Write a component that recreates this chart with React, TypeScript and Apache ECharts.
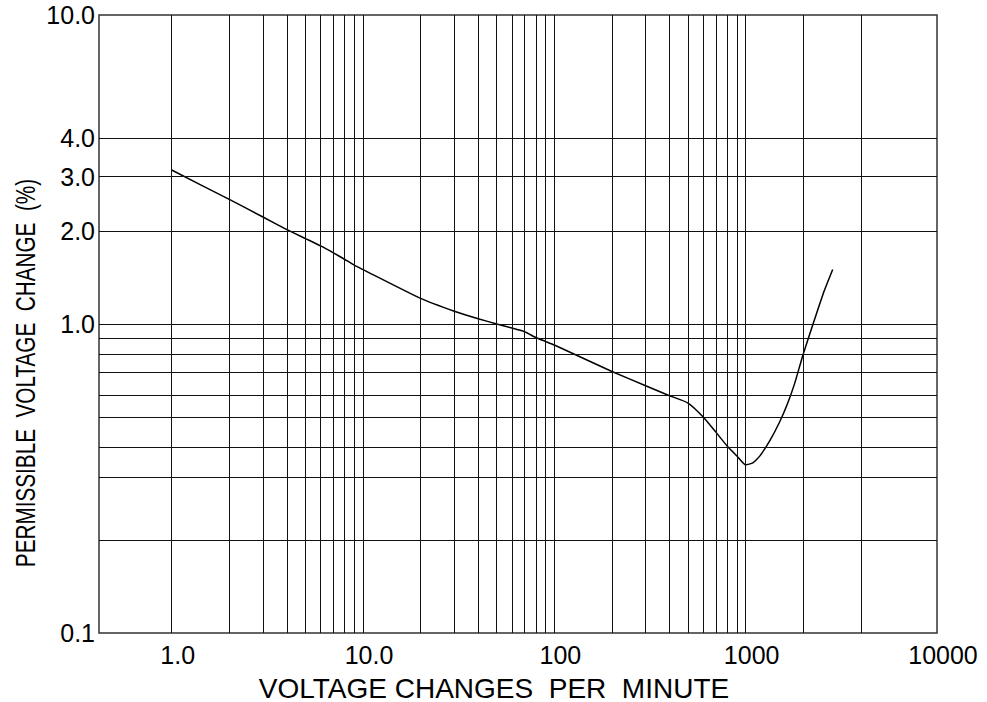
import React, { useEffect, useRef } from 'react';
import * as echarts from 'echarts';

// Curve: voltage changes per minute (x) vs permissible voltage change % (y)
const changesPerMinute = [
  1, 2, 3, 4, 5, 6, 7, 8, 9, 10,
  20, 30, 40, 50, 60, 70, 80, 90, 100,
  200, 300, 400, 500, 600, 700, 800, 900, 1000,
  1090, 1190, 1340, 1500, 1650, 1800, 2000, 2250, 2550, 2850,
];
const permissibleChange = [
  3.15, 2.53, 2.22, 2.02, 1.89, 1.79, 1.7, 1.62, 1.55, 1.5,
  1.21, 1.1, 1.04, 1.0, 0.97, 0.944, 0.904, 0.878, 0.855,
  0.702, 0.631, 0.586, 0.555, 0.5, 0.446, 0.403, 0.374, 0.35,
  0.355, 0.375, 0.42, 0.48, 0.55, 0.64, 0.8, 1.0, 1.26, 1.5,
];

// Grid (ruling) lines of the log-log paper
const xGridLines = [
  1, 2, 3, 4, 5, 6, 7, 8, 9,
  10, 20, 30, 40, 50, 60, 70, 80, 90,
  100, 200, 300, 400, 500, 600, 700, 800, 900,
  1000, 2000, 4000,
];
const yGridLines = [0.2, 0.315, 0.4, 0.5, 0.59, 0.7, 0.8, 0.9, 1, 2, 3, 4];

// Tick labels
const xTickValues = [1, 10, 100, 1000, 10000];
const yTickValues = [0.1, 1, 2, 3, 4, 10];

const xTitle = 'VOLTAGE CHANGES  PER  MINUTE';
const yTitle = 'PERMISSIBLE  VOLTAGE  CHANGE  (%)';

const FONT = '"Liberation Sans", Arial, Helvetica, sans-serif';

export default function App() {
  const ref = useRef<HTMLDivElement>(null);

  useEffect(() => {
    if (!ref.current) return;
    const chart = echarts.init(ref.current, null, { renderer: 'svg' });
    const data = changesPerMinute.map((x, i) => [x, permissibleChange[i]]);

    chart.setOption({
      animation: false,
      backgroundColor: '#ffffff',
      grid: {
        left: 99,
        right: 50,
        top: 15,
        bottom: 69,
        show: true,
        borderColor: '#333',
        borderWidth: 1.5,
        backgroundColor: 'transparent',
      },
      xAxis: {
        type: 'log',
        logBase: 10,
        min: 0.417,
        max: 10000,
        axisLine: { show: false },
        axisTick: { show: false },
        splitLine: { show: false },
        minorTick: { show: false },
        axisLabel: {
          customValues: xTickValues,
          formatter: (v: number) => (v < 100 ? v.toFixed(1) : String(Math.round(v))),
          fontSize: 25,
          fontFamily: FONT,
          color: '#000',
          margin: 9,
          padding: [0, 0, 0, 12],
        },
      },
      yAxis: {
        type: 'log',
        logBase: 10,
        min: 0.1,
        max: 10,
        axisLine: { show: false },
        axisTick: { show: false },
        splitLine: { show: false },
        axisLabel: {
          customValues: yTickValues,
          formatter: (v: number) => v.toFixed(1),
          fontSize: 25,
          fontFamily: FONT,
          color: '#000',
          margin: 4,
        },
      },
      graphic: [
        {
          type: 'text',
          x: 25,
          y: 373,
          rotation: Math.PI / 2,
          scaleX: 0.74,
          style: {
            text: yTitle,
            fontSize: 28,
            fontFamily: FONT,
            fill: '#000',
            align: 'center',
            verticalAlign: 'middle',
          },
        },
        {
          type: 'text',
          x: 494,
          y: 688,
          style: {
            text: xTitle,
            fontSize: 28,
            fontFamily: FONT,
            fill: '#000',
            align: 'center',
            verticalAlign: 'middle',
          },
        },
      ],
      series: [
        {
          type: 'line',
          data,
          showSymbol: false,
          symbol: 'none',
          smooth: 0.15,
          lineStyle: { color: '#000', width: 1.5 },
          z: 3,
          markLine: {
            silent: true,
            symbol: ['none', 'none'],
            label: { show: false },
            animation: false,
            lineStyle: { color: '#111', width: 1, type: 'solid' },
            emphasis: { disabled: true },
            data: [
              ...xGridLines.map((v) => ({ xAxis: v })),
              ...yGridLines.map((v) => ({ yAxis: v })),
            ],
          },
        },
      ],
    });

    return () => chart.dispose();
  }, []);

  return (
    <div
      ref={ref}
      style={{ position: 'fixed', left: 0, top: 0, width: 987, height: 702 }}
    />
  );
}
